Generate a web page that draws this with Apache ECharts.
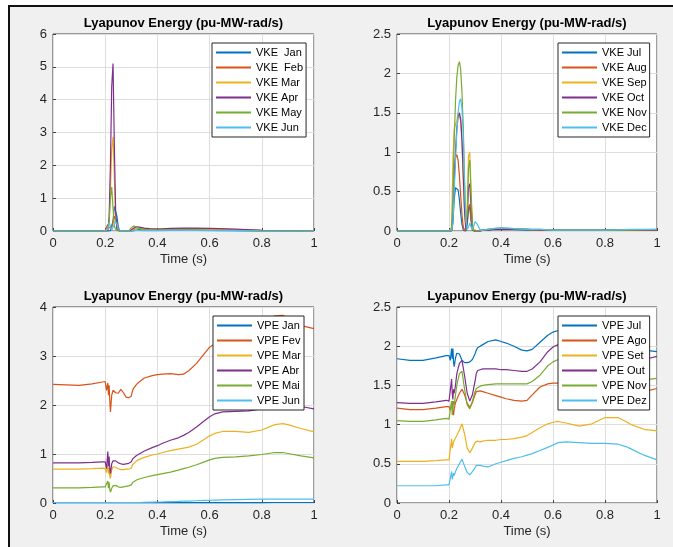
<!DOCTYPE html>
<html>
<head>
<meta charset="utf-8">
<script src="https://cdn.jsdelivr.net/npm/echarts@6.0.0/dist/echarts.min.js"></script>
<style>
html, body { margin: 0; padding: 0; background: #f0f0f0; }
#chart { width: 673px; height: 547px; }
</style>
</head>
<body>
<div id="chart"></div>
<script>
// time axes (s)
const tTop = [0, 0.1, 0.2, 0.205, 0.21, 0.215, 0.22, 0.225, 0.23, 0.235, 0.24, 0.245, 0.25, 0.255, 0.26, 0.265, 0.27, 0.275, 0.28, 0.285, 0.29, 0.295, 0.3,
  0.31, 0.32, 0.33, 0.35, 0.37, 0.4, 0.45, 0.5, 0.55, 0.6, 0.7, 0.8, 0.9, 1];
const tBot = [0, 0.05, 0.1, 0.15, 0.19, 0.2, 0.205, 0.21, 0.2125, 0.215, 0.2175, 0.22, 0.225, 0.23, 0.24, 0.25, 0.26, 0.27, 0.28, 0.29,
  0.3, 0.305, 0.31, 0.32, 0.33, 0.35, 0.38, 0.4, 0.42, 0.45, 0.48, 0.5, 0.52, 0.55, 0.58, 0.6, 0.62, 0.65, 0.7, 0.75,
  0.8, 0.85, 0.88, 0.9, 0.95, 1];

// VKE Jan-Jun
const vkeJan = [0,0,0,0,0,0,0.01,0.05,0.3,0.75,0.78,0.45,0.12,0.02,0,0,0,0,0,0,0,0,0, 0.01,0.03,0.04,0.03,0.02,0.02,0.03,0.03,0.03,0.02,0.01,0,0,0];
const vkeFeb = [0,0,0,0.12,0.2,0.1,0.05,0.1,0.3,0.45,0.48,0.25,0.05,0,0,0,0,0,0,0,0,0,0.01, 0.05,0.09,0.1,0.07,0.05,0.05,0.06,0.07,0.07,0.06,0.04,0.02,0.01,0.01];
const vkeMar = [0,0,0,0,0.02,0.2,1.2,2.5,2.87,1.6,0.4,0.05,0,0,0,0,0,0,0,0,0,0,0.02, 0.06,0.08,0.08,0.06,0.05,0.04,0.05,0.05,0.05,0.04,0.03,0.01,0,0];
const vkeApr = [0,0,0,0,0.02,0.4,2.0,4.4,5.1,2.6,0.6,0.05,0,0,0,0,0,0,0,0,0,0.01,0.03, 0.09,0.13,0.12,0.09,0.07,0.06,0.08,0.09,0.09,0.08,0.06,0.02,0.01,0];
const vkeMay = [0,0,0,0.02,0.05,0.3,1.0,1.34,0.7,0.15,0.05,0,0,0,0,0,0,0,0,0,0,0.02,0.1, 0.15,0.12,0.08,0.05,0.04,0.03,0.04,0.04,0.04,0.03,0.02,0,0,0];
const vkeJun = [0,0,0,0.02,0.05,0.25,0.15,0.02,0.05,0.2,0.3,0.2,0.05,0,0,0,0,0,0,0,0,0,0, 0.01,0.02,0.02,0.01,0.01,0.01,0.02,0.02,0.02,0.01,0.01,0,0,0];

// VKE Jul-Dec
const vkeJul = [0,0,0,0,0,0.1,0.4,0.55,0.57,0.52,0.4,0.22,0.08,0.01,0,0,0.08,0.27,0.3,0.12,0.01,0,0, 0,0,0.01,0.01,0.02,0.02,0.02,0.01,0.01,0.01,0.01,0.01,0.01,0.01];
const vkeAug = [0,0,0,0,0.02,0.3,0.75,0.93,0.97,0.9,0.7,0.45,0.2,0.05,0,0,0.1,0.3,0.34,0.15,0.02,0,0, 0,0.01,0.01,0.02,0.02,0.03,0.03,0.02,0.01,0.01,0.01,0.01,0.01,0.01];
const vkeSep = [0,0,0,0,0.05,0.9,1.3,1.32,1.4,1.5,1.52,1.4,1.1,0.6,0.2,0.02,0.3,0.95,1.0,0.5,0.1,0.02,0, 0,0.01,0.01,0.02,0.02,0.03,0.02,0.02,0.01,0.01,0.01,0.01,0.01,0.01];
const vkeOct = [0,0,0,0,0,0.2,0.6,1.0,1.3,1.45,1.5,1.42,1.15,0.7,0.25,0.02,0.15,0.55,0.6,0.3,0.05,0,0, 0,0,0.01,0.01,0.02,0.02,0.02,0.02,0.01,0.01,0.01,0.01,0.01,0.01];
const vkeNov = [0,0,0,0,0.02,0.45,1.15,1.65,1.95,2.1,2.15,2.05,1.75,1.3,0.6,0.1,0.2,0.8,0.9,0.45,0.05,0,0, 0,0.01,0.01,0.02,0.03,0.04,0.03,0.02,0.02,0.01,0.01,0.01,0.01,0.02];
const vkeDec = [0,0,0,0,0,0.1,0.5,0.9,1.25,1.5,1.64,1.68,1.55,1.2,0.6,0.15,0.02,0.05,0.1,0.05,0.02,0.06,0.12, 0.08,0.01,0.01,0.02,0.03,0.04,0.03,0.02,0.02,0.01,0.01,0.01,0.02,0.02];

// VPE Jan-Jun
const vpeJan = [0.005,0.005,0.005,0.005,0.005,0.005,0.005,0.005,0.005,0.005, 0.005,0.005,0.005,0.005,0.005,0.005,0.005,0.005,0.005,0.005,
  0.005,0.005,0.005,0.005,0.005,0.005,0.005,0.006,0.006,0.006, 0.006,0.007,0.007,0.007,0.008,0.008,0.008,0.008,0.009,0.009, 0.009,0.01,0.01,0.01,0.01,0.01];
const vpeFev = [2.42,2.41,2.4,2.43,2.47,2.48,2.3,2.45,2.2,2.4, 2.1,1.86,2.2,2.3,2.25,2.24,2.32,2.25,2.16,2.15,
  2.18,2.3,2.35,2.42,2.47,2.55,2.6,2.62,2.63,2.64, 2.62,2.63,2.7,2.85,3.05,3.18,3.25,3.28,3.35,3.55, 3.72,3.82,3.83,3.78,3.62,3.56];
const vpeMar = [0.69,0.69,0.69,0.7,0.71,0.7,0.62,0.78,0.6,0.72, 0.55,0.5,0.68,0.74,0.73,0.7,0.68,0.68,0.69,0.69,
  0.71,0.78,0.82,0.86,0.89,0.93,0.98,1.0,1.03,1.07, 1.1,1.12,1.14,1.2,1.3,1.37,1.42,1.46,1.46,1.44, 1.49,1.6,1.62,1.6,1.52,1.45];
const vpeAbr = [0.82,0.82,0.82,0.83,0.84,0.84,0.7,1.05,0.75,0.95, 0.7,0.6,0.8,0.86,0.86,0.82,0.8,0.79,0.8,0.81,
  0.84,0.9,0.93,0.97,1.0,1.06,1.13,1.17,1.22,1.28, 1.33,1.38,1.44,1.55,1.68,1.76,1.82,1.86,1.87,1.88, 1.92,1.98,2.0,2.0,1.97,1.92];
const vpeMai = [0.31,0.31,0.31,0.32,0.33,0.33,0.3,0.45,0.3,0.42, 0.28,0.22,0.3,0.35,0.36,0.33,0.32,0.33,0.34,0.35,
  0.37,0.42,0.45,0.47,0.49,0.52,0.56,0.58,0.6,0.63, 0.67,0.7,0.73,0.78,0.84,0.88,0.91,0.93,0.94,0.96, 0.99,1.03,1.03,1.01,0.96,0.92];
const vpeJun = [0.01,0.01,0.01,0.01,0.01,0.01,0.01,0.01,0.01,0.01, 0.01,0.01,0.01,0.01,0.01,0.01,0.01,0.01,0.01,0.01,
  0.01,0.01,0.01,0.01,0.01,0.015,0.018,0.02,0.023,0.028, 0.033,0.037,0.04,0.046,0.052,0.056,0.06,0.064,0.07,0.074, 0.078,0.08,0.08,0.08,0.08,0.08];

// VPE Jul-Dez
const vpeJul = [1.84,1.82,1.82,1.85,1.88,1.88,1.82,1.97,1.84,1.97, 1.8,1.74,1.85,1.91,1.9,1.82,1.79,1.79,1.8,1.83,
  1.9,1.95,1.98,2.0,2.02,2.06,2.08,2.06,2.04,2.0, 1.95,1.94,1.96,2.05,2.14,2.18,2.2,2.22,2.2,2.15, 2.08,2.05,2.03,2.0,1.95,1.93];
const vpeAgo = [1.21,1.19,1.19,1.21,1.23,1.23,1.18,1.2,1.3,1.15, 1.12,1.2,1.28,1.32,1.4,1.45,1.38,1.27,1.22,1.28,
  1.38,1.42,1.43,1.43,1.42,1.4,1.37,1.35,1.33,1.31, 1.3,1.31,1.38,1.48,1.52,1.53,1.53,1.5,1.45,1.4, 1.38,1.38,1.39,1.4,1.42,1.46];
const vpeSet = [0.53,0.53,0.53,0.54,0.55,0.55,0.54,0.82,0.7,0.68, 0.78,0.8,0.83,0.86,0.93,1.01,0.88,0.7,0.64,0.7,
  0.77,0.79,0.79,0.78,0.79,0.8,0.8,0.81,0.81,0.82, 0.84,0.86,0.9,0.96,1.01,1.03,1.04,1.02,0.98,1.01, 1.09,1.09,1.04,1.0,0.94,0.92];
const vpeOut = [1.28,1.27,1.27,1.29,1.31,1.3,1.29,1.58,1.4,1.32, 1.45,1.4,1.5,1.65,1.78,1.82,1.62,1.4,1.3,1.38,
  1.55,1.65,1.69,1.7,1.71,1.71,1.71,1.7,1.7,1.69, 1.68,1.68,1.71,1.8,1.93,1.99,2.02,2.02,1.98,1.9, 1.85,1.82,1.82,1.82,1.83,1.87];
const vpeNov = [1.05,1.04,1.04,1.06,1.08,1.07,1.05,1.3,1.12,1.1, 1.3,1.25,1.38,1.5,1.65,1.68,1.45,1.25,1.2,1.3,
  1.42,1.46,1.48,1.49,1.5,1.51,1.52,1.52,1.52,1.52, 1.52,1.52,1.55,1.63,1.75,1.8,1.83,1.84,1.8,1.72, 1.65,1.6,1.58,1.57,1.57,1.59];
const vpeDez = [0.22,0.22,0.22,0.22,0.23,0.23,0.23,0.4,0.3,0.34, 0.38,0.35,0.4,0.44,0.5,0.56,0.47,0.39,0.36,0.4,
  0.45,0.48,0.48,0.48,0.47,0.46,0.5,0.52,0.54,0.57, 0.59,0.61,0.63,0.67,0.71,0.74,0.77,0.78,0.77,0.76, 0.76,0.75,0.72,0.69,0.61,0.55];

const colors = ['#0072BD', '#D95319', '#EDB120', '#7E2F8E', '#77AC30', '#4DBEEE'];
const font = 'Liberation Sans, Arial, Helvetica, sans-serif';
const titleText = 'Lyapunov Energy (pu-MW-rad/s)';

const panels = [
  { t: tTop, ymax: 6, yint: 1, names: ['VKE  Jan', 'VKE  Feb', 'VKE Mar', 'VKE Apr', 'VKE May', 'VKE Jun'],
    values: [vkeJan, vkeFeb, vkeMar, vkeApr, vkeMay, vkeJun] },
  { t: tTop, ymax: 2.5, yint: 0.5, names: ['VKE Jul', 'VKE Aug', 'VKE Sep', 'VKE Oct', 'VKE Nov', 'VKE Dec'],
    values: [vkeJul, vkeAug, vkeSep, vkeOct, vkeNov, vkeDec] },
  { t: tBot, ymax: 4, yint: 1, names: ['VPE Jan', 'VPE Fev', 'VPE Mar', 'VPE Abr', 'VPE Mai', 'VPE Jun'],
    values: [vpeJan, vpeFev, vpeMar, vpeAbr, vpeMai, vpeJun] },
  { t: tBot, ymax: 2.5, yint: 0.5, names: ['VPE Jul', 'VPE Ago', 'VPE Set', 'VPE Out', 'VPE Nov', 'VPE Dez'],
    values: [vpeJul, vpeAgo, vpeSet, vpeOut, vpeNov, vpeDez] }
];

// layout of the 2x2 subplots
const boxes = [
  { left: 53, top: 34, width: 261, height: 197, legendLeft: 212, legendTop: 43 },
  { left: 397, top: 34, width: 260, height: 197, legendLeft: 558, legendTop: 43 },
  { left: 53, top: 307, width: 261, height: 196, legendLeft: 213, legendTop: 316 },
  { left: 397, top: 307, width: 260, height: 196, legendLeft: 558, legendTop: 316 }
];

const grid = [], xAxis = [], yAxis = [], title = [], legend = [], series = [];
panels.forEach((p, i) => {
  const b = boxes[i];
  grid.push({ left: b.left, top: b.top, width: b.width, height: b.height, show: true,
    backgroundColor: '#fff', borderColor: '#404040', borderWidth: 1 });
  xAxis.push({ type: 'value', gridIndex: i, min: 0, max: 1, interval: 0.2,
    name: 'Time (s)', nameLocation: 'middle', nameGap: 22,
    nameTextStyle: { fontSize: 13, color: '#262626', fontFamily: font },
    axisLine: { show: false },
    axisTick: { show: true, inside: true, length: 3, lineStyle: { color: '#404040' } },
    axisLabel: { fontSize: 13, color: '#262626', margin: 6, fontFamily: font },
    splitLine: { show: true, lineStyle: { color: '#dedede' } } });
  yAxis.push({ type: 'value', gridIndex: i, min: 0, max: p.ymax, interval: p.yint,
    axisLine: { show: false },
    axisTick: { show: true, inside: true, length: 3, lineStyle: { color: '#404040' } },
    axisLabel: { fontSize: 13, color: '#262626', margin: 6, fontFamily: font },
    splitLine: { show: true, lineStyle: { color: '#dedede' } } });
  title.push({ text: titleText, left: b.left + b.width / 2, top: b.top - 17, textAlign: 'center', padding: 0,
    textStyle: { fontSize: 13, fontWeight: 'bold', color: '#000', fontFamily: font } });
  legend.push({ orient: 'vertical', left: b.legendLeft, top: b.legendTop, data: p.names,
    backgroundColor: '#fff', borderColor: '#262626', borderWidth: 1, borderRadius: 0,
    padding: [4, 3, 4, 3], itemWidth: 35, itemHeight: 12, itemGap: 4, selectedMode: false,
    itemStyle: { opacity: 0 },
    textStyle: { fontSize: 11, color: '#000', fontFamily: font } });
  p.names.forEach((name, k) => {
    series.push({ type: 'line', name: name, xAxisIndex: i, yAxisIndex: i,
      data: p.t.map((x, j) => [x, p.values[k][j]]),
      symbol: 'none', showSymbol: false, clip: false,
      lineStyle: { width: 1.2, color: colors[k] }, itemStyle: { color: colors[k] },
      emphasis: { disabled: true } });
  });
});

const chart = echarts.init(document.getElementById('chart'));
chart.setOption({
  animation: false,
  backgroundColor: '#f0f0f0',
  title, legend, grid, xAxis, yAxis, series,
  // screenshot frame: white margin and dark edge at top/left
  graphic: [
    { type: 'rect', shape: { x: 0, y: 0, width: 673, height: 5 }, style: { fill: '#fff' }, silent: true },
    { type: 'rect', shape: { x: 0, y: 0, width: 8, height: 547 }, style: { fill: '#fff' }, silent: true },
    { type: 'rect', shape: { x: 8, y: 5, width: 665, height: 2 }, style: { fill: '#111' }, silent: true },
    { type: 'rect', shape: { x: 8, y: 5, width: 2, height: 542 }, style: { fill: '#111' }, silent: true }
  ]
});
</script>
</body>
</html>
